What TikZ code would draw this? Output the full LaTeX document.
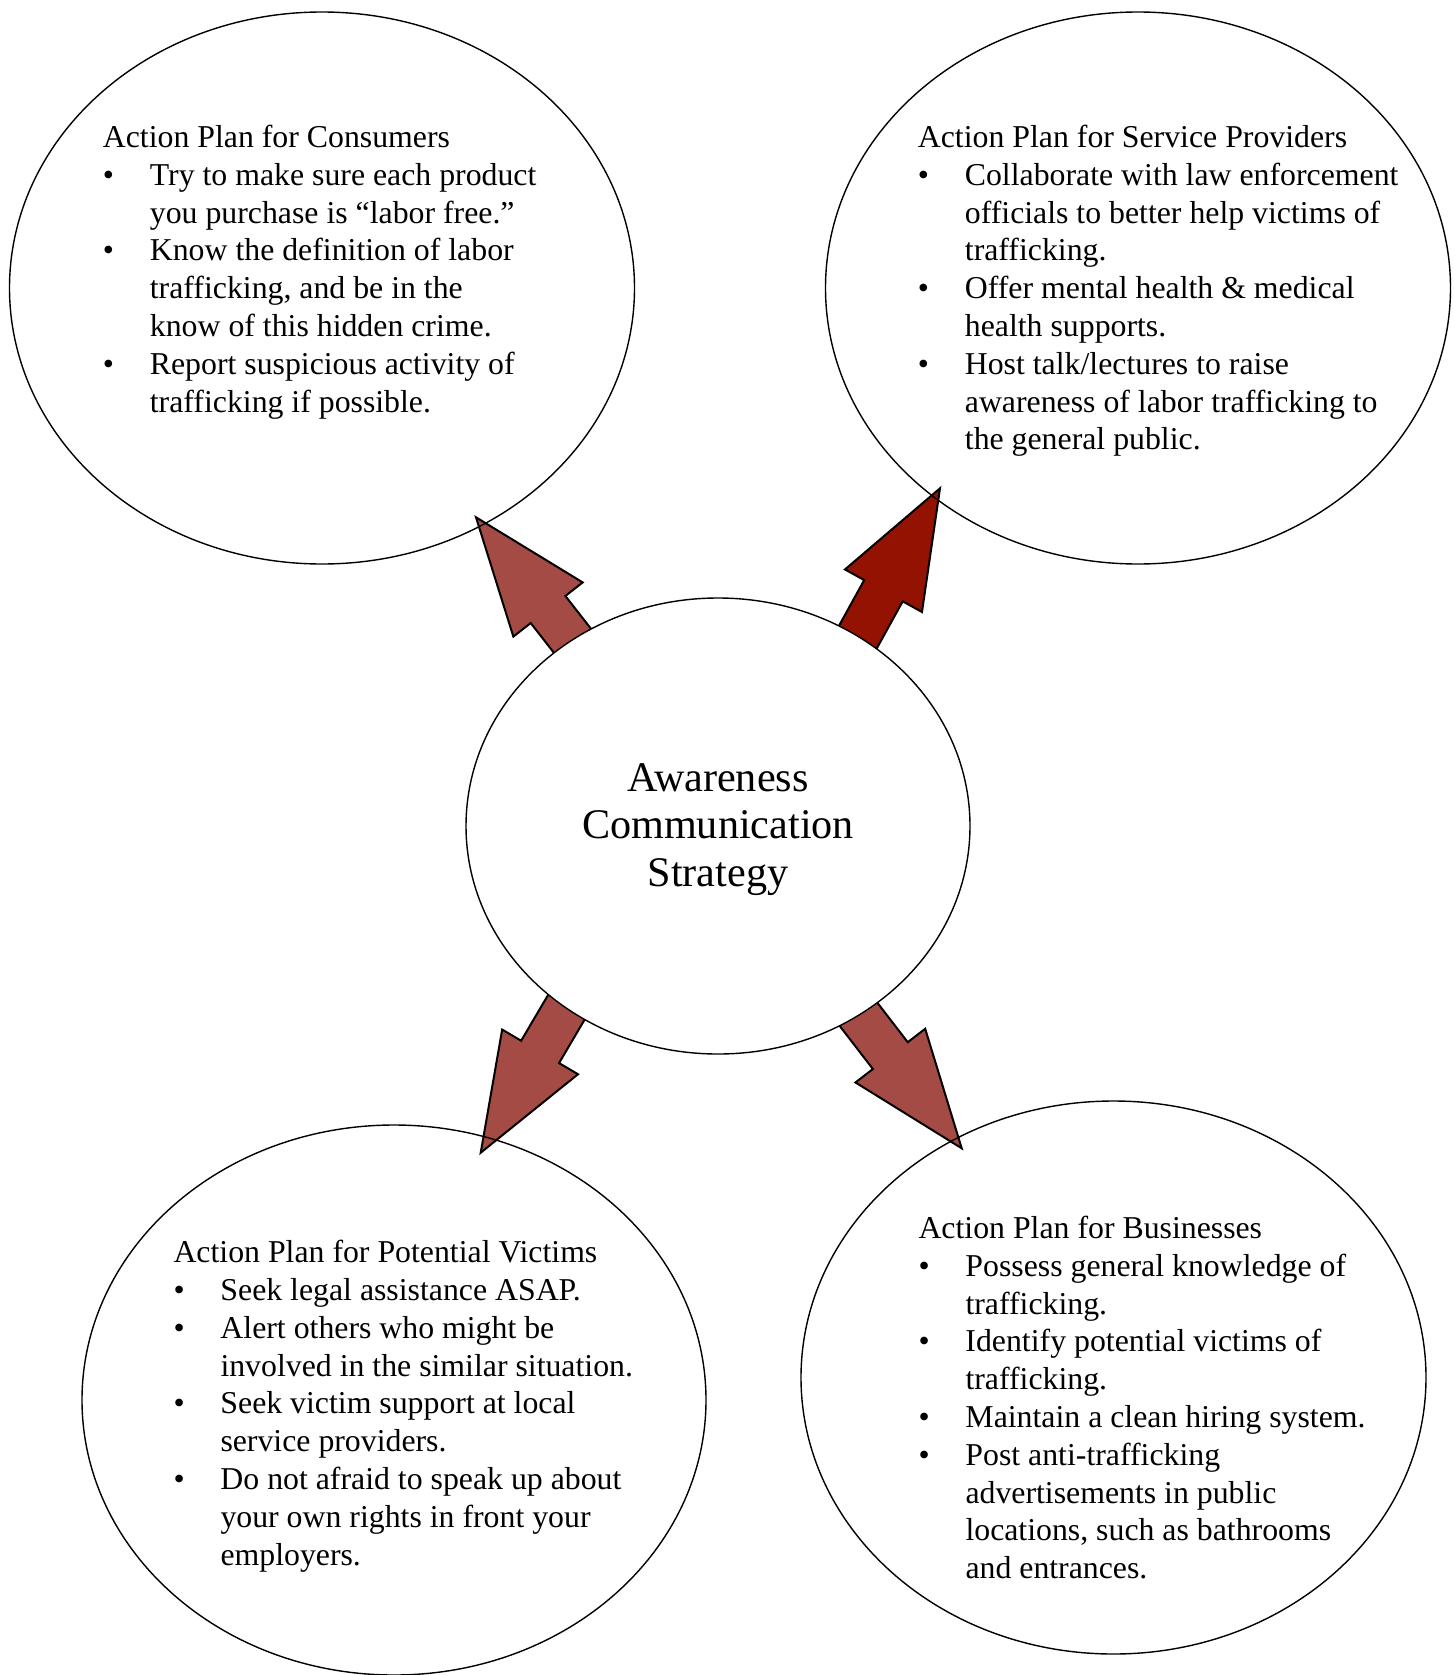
\documentclass[tikz,border=0pt]{standalone}
\usepackage{fontspec}
\setmainfont{Liberation Serif}
\usetikzlibrary{shapes.geometric}
\definecolor{arrowred}{HTML}{A54B45}
\definecolor{arrowdark}{HTML}{931202}
\newcommand\bul{\makebox[47pt][l]{•}}
\newcommand\ind{\hspace*{47pt}}
\newcommand\drawblockarrow[3]{%
  \filldraw[blockarrow, fill=#3, shift={(#1)}, rotate=#2]
    (0,0) -- (-117,44) -- (-117,22) -- (-330,22) -- (-330,-22) -- (-117,-22) -- (-117,-44) -- cycle;}
\tikzset{
  bubble/.style={ellipse, draw=black, line width=1.4pt, inner sep=0pt, outer sep=0pt},
  plan/.style={anchor=north west, align=left, inner sep=0pt, font=\fontsize{31.8}{37.8}\selectfont},
  blockarrow/.style={draw=black, line width=2pt, line join=miter},
}
\begin{document}
\begin{tikzpicture}[x=1pt,y=1pt]
\useasboundingbox (0,0) rectangle (1455,-1675);
\fill[white] (0,0) rectangle (1455,-1675);
% arrow tips
\coordinate (tipCons) at (476,-517.3);
\coordinate (tipServ) at (940,-488.3);
\coordinate (tipVict) at (480.7,-1152.7);
\coordinate (tipBus) at (961.7,-1148.3);
\drawblockarrow{tipCons}{128}{arrowred}
\drawblockarrow{tipServ}{61.1}{arrowdark}
\drawblockarrow{tipVict}{239.5}{arrowred}
\drawblockarrow{tipBus}{307.6}{arrowred}
% bubbles
\node[bubble, minimum width=625pt, minimum height=552pt] (cons) at (322,-288) {};
\node[bubble, minimum width=625pt, minimum height=552pt] (serv) at (1138,-288) {};
\node[bubble, minimum width=624pt, minimum height=550pt] (vict) at (394,-1400) {};
\node[bubble, minimum width=625pt, minimum height=553pt] (bus) at (1113.5,-1377.5) {};
\node[bubble, fill=white, minimum width=504pt, minimum height=456pt] (strat) at (718,-826) {};
% texts
\node[anchor=north, align=center, inner sep=0pt, font=\fontsize{42.2}{47.5}\selectfont] (stratText) at (718,-763) {Awareness\\Communication\\Strategy};
\node[plan] (consText) at (102.7,-125) {Action Plan for Consumers\\
\bul Try to make sure each product\\
\ind you purchase is “labor free.”\\
\bul Know the definition of labor\\
\ind trafficking, and be in the\\
\ind know of this hidden crime.\\
\bul Report suspicious activity of\\
\ind trafficking if possible.};
\node[plan] (servText) at (917.7,-125) {Action Plan for Service Providers\\
\bul Collaborate with law enforcement\\
\ind officials to better help victims of\\
\ind trafficking.\\
\bul Offer mental health \& medical\\
\ind health supports.\\
\bul Host talk/lectures to raise\\
\ind awareness of labor trafficking to\\
\ind the general public.};
\node[plan] (victText) at (173.3,-1240) {Action Plan for Potential Victims\\
\bul Seek legal assistance ASAP.\\
\bul Alert others who might be\\
\ind involved in the similar situation.\\
\bul Seek victim support at local\\
\ind service providers.\\
\bul Do not afraid to speak up about\\
\ind your own rights in front your\\
\ind employers.};
\node[plan] (busText) at (918.3,-1215.8) {Action Plan for Businesses\\
\bul Possess general knowledge of\\
\ind trafficking.\\
\bul Identify potential victims of\\
\ind trafficking.\\
\bul Maintain a clean hiring system.\\
\bul Post anti-trafficking\\
\ind advertisements in public\\
\ind locations, such as bathrooms\\
\ind and entrances.};
\end{tikzpicture}
\end{document}
